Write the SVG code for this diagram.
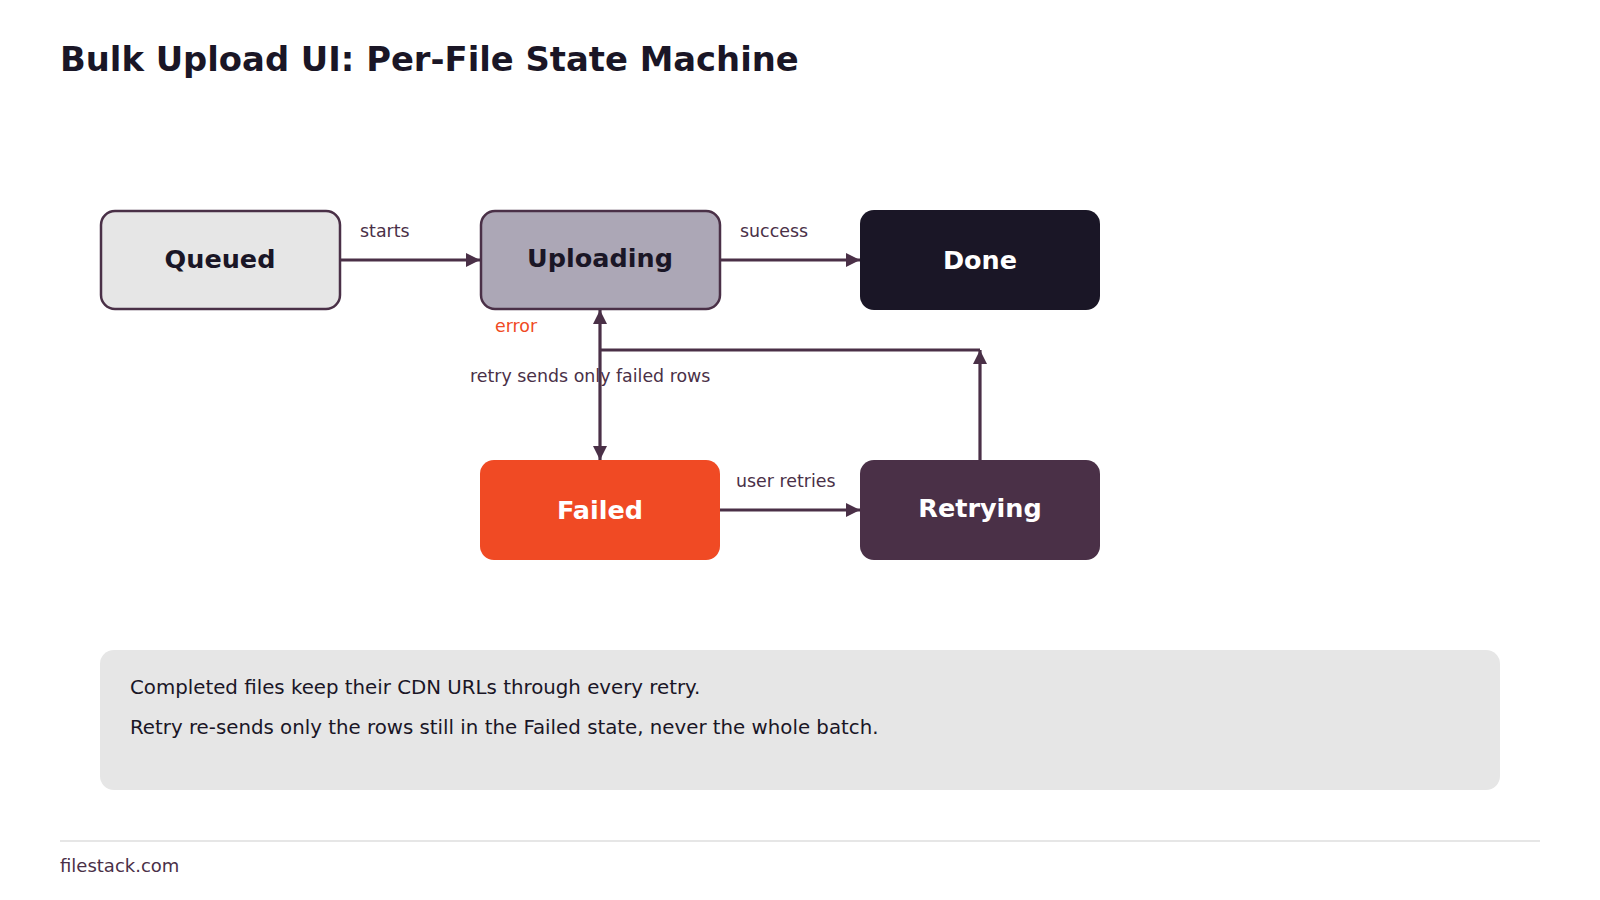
<svg xmlns="http://www.w3.org/2000/svg" width="1600" height="900" viewBox="0 0 1600 900">
<style>
text{font-family:"DejaVu Sans",sans-serif}
.t{font-size:33.8px;font-weight:bold;fill:#1a1626}
.n{font-size:25.5px;font-weight:bold;text-anchor:middle}
.l{font-size:17.4px;fill:#4a3047}
.c{stroke:#4a3047;stroke-width:3.2;fill:none}
.note{font-size:19.8px;fill:#1a1626}
</style>
<defs>
<marker id="a" viewBox="0 0 10 10" refX="10" refY="5" markerWidth="4.5" markerHeight="4.5" orient="auto-start-reverse"><path d="M0,0L10,5L0,10z" fill="#4a3047"/></marker>
</defs>
<rect width="1600" height="900" fill="#fff"/>
<text class="t" x="60" y="71">Bulk Upload UI: Per-File State Machine</text>
<g id="connectors">
<line class="c" x1="340" y1="260" x2="480" y2="260" marker-end="url(#a)"/>
<line class="c" x1="720" y1="260" x2="860" y2="260" marker-end="url(#a)"/>
<line class="c" x1="600" y1="310" x2="600" y2="460" marker-start="url(#a)" marker-end="url(#a)"/>
<polyline class="c" points="600,350 980,350"/>
<line class="c" x1="980" y1="460" x2="980" y2="350" marker-end="url(#a)"/>
<line class="c" x1="720" y1="510" x2="860" y2="510" marker-end="url(#a)"/>
<text class="l" x="360" y="237">starts</text>
<text class="l" x="740" y="237">success</text>
<text class="l" x="495" y="332" style="fill:#f04a24">error</text>
<text class="l" x="470" y="382">retry sends only failed rows</text>
<text class="l" x="736" y="487">user retries</text>
</g>
<g id="queued"><rect x="101" y="211" width="239" height="98" rx="14" fill="#e6e6e6" stroke="#4a3047" stroke-width="2.5"/><text class="n" x="220" y="268" fill="#1a1626">Queued</text></g>
<g id="uploading"><rect x="481" y="211" width="239" height="98" rx="14" fill="#aca7b6" stroke="#4a3047" stroke-width="2.5"/><text class="n" x="600" y="267" fill="#1a1626">Uploading</text></g>
<g id="done"><rect x="860" y="210" width="240" height="100" rx="14" fill="#1a1626"/><text class="n" x="980" y="269" fill="#fff">Done</text></g>
<g id="failed"><rect x="480" y="460" width="240" height="100" rx="14" fill="#f04a24"/><text class="n" x="600" y="519" fill="#fff">Failed</text></g>
<g id="retrying"><rect x="860" y="460" width="240" height="100" rx="14" fill="#4a3047"/><text class="n" x="980" y="517" fill="#fff">Retrying</text></g>
<g id="note"><rect x="100" y="650" width="1400" height="140" rx="14" fill="#e6e6e6"/>
<text class="note" x="130" y="694">Completed files keep their CDN URLs through every retry.</text>
<text class="note" x="130" y="734">Retry re-sends only the rows still in the Failed state, never the whole batch.</text></g>
<line x1="60" y1="841" x2="1540" y2="841" stroke="#e6e6e6" stroke-width="2"/>
<text x="60" y="872" font-size="18" fill="#4a3047">filestack.com</text>
</svg>
